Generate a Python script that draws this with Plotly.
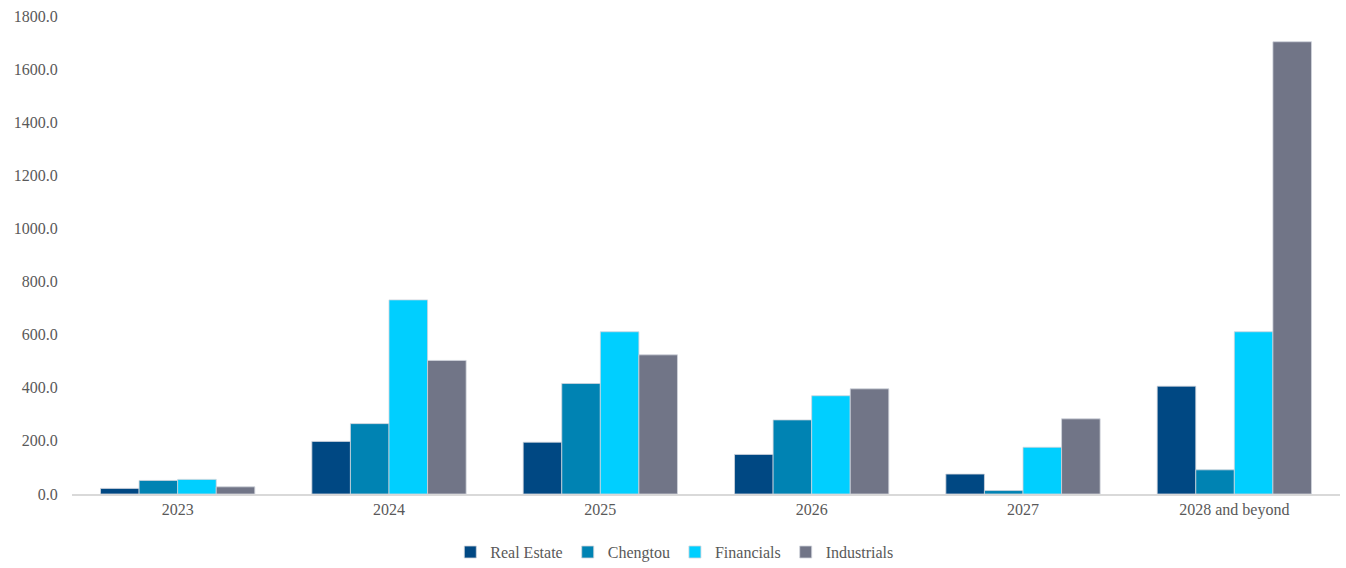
import plotly.graph_objects as go

categories = ["2023", "2024", "2025", "2026", "2027", "2028 and beyond"]
real_estate = [21, 198, 195, 149, 75, 406]
chengtou = [51, 265, 416, 279, 13, 91]
financials = [55, 731, 611, 370, 176, 611]
industrials = [27, 503, 524, 396, 283, 1703]

series = [
    ("Real Estate", real_estate, "#004883"),
    ("Chengtou", chengtou, "#0083B3"),
    ("Financials", financials, "#00CFFF"),
    ("Industrials", industrials, "#717587"),
]

font_family = "Liberation Serif, DejaVu Serif, serif"
txt_color = "#595959"

fig = go.Figure()
for name, vals, col in series:
    fig.add_trace(go.Bar(
        x=categories, y=vals, name=name,
        marker=dict(color=col, line=dict(color="#D0D4DC", width=0.8)),
    ))

fig.update_layout(
    width=1346, height=568,
    margin=dict(l=72, r=6, t=16, b=74, autoexpand=False),
    paper_bgcolor="white", plot_bgcolor="white",
    barmode="group", bargap=0.27, bargroupgap=0,
    font=dict(family=font_family, size=16, color=txt_color),
    showlegend=True,
    legend=dict(orientation="h", x=0.475, xanchor="center", y=-0.086, yanchor="top",
                font=dict(family=font_family, size=16, color=txt_color),
                itemwidth=30, tracegroupgap=0),
    xaxis=dict(showline=True, linecolor="#D9D9D9", linewidth=1.5, showgrid=False,
               ticks="", tickfont=dict(size=16, color=txt_color)),
    yaxis=dict(range=[0, 1800], dtick=200, tickformat=".1f", showgrid=False,
               zeroline=False, showline=False, ticks="outside", ticklen=10,
               tickcolor="rgba(0,0,0,0)", tickfont=dict(size=16, color=txt_color)),
)

fig.write_html("out.html")
